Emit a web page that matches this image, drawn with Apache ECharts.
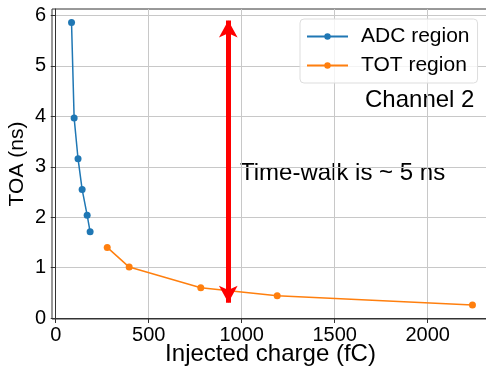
<!DOCTYPE html>
<html>
<head>
<meta charset="utf-8">
<script src="https://cdn.jsdelivr.net/npm/echarts@6/dist/echarts.min.js"></script>
<style>
  html, body { margin: 0; padding: 0; background: #fff; }
  #chart { width: 486px; height: 372px; }
</style>
</head>
<body>
<div id="chart"></div>
<script>
// ADC region (blue) and TOT region (orange) points: [charge fC, TOA ns]
const adcCharge = [85, 99, 120, 142, 169, 185]
const adcToa = [5.86, 3.97, 3.16, 2.55, 2.04, 1.71]
const totCharge = [277, 395, 780, 1191, 2241]
const totToa = [1.40, 1.01, 0.60, 0.44, 0.26]

const xTicks = [0, 500, 1000, 1500, 2000]
const yTicks = [0, 1, 2, 3, 4, 5, 6]

// red double arrow showing the time-walk
const arrowCharge = 928
const arrowTop = 5.9
const arrowBottom = 0.3

const font = 'Liberation Sans, Arial, sans-serif'

const chart = echarts.init(document.getElementById('chart'))

const option = {
  animation: false,
  grid: {
    left: 52, right: -3, top: 9, bottom: 53,
    containLabel: false,
    outerBoundsMode: 'none',
    show: true, borderColor: '#333', borderWidth: 1
  },
  xAxis: {
    type: 'value',
    min: -20, max: 2330,
    name: 'Injected charge (fC)',
    nameLocation: 'middle',
    nameGap: 23,
    nameMoveOverlap: false,
    nameTextStyle: { fontFamily: font, fontSize: 24, color: '#000', verticalAlign: 'top' },
    axisLine: { show: true, lineStyle: { color: '#333' } },
    axisTick: { show: true, length: 5, lineStyle: { color: '#333' }, customValues: xTicks },
    axisLabel: {
      fontFamily: font, fontSize: 20, color: '#000', margin: 6,
      customValues: xTicks,
      formatter: v => String(v)
    },
    splitLine: { show: true, lineStyle: { color: '#c8c8c8', width: 1 } }
  },
  yAxis: {
    type: 'value',
    min: -0.02, max: 6.13,
    name: 'TOA (ns)',
    nameLocation: 'middle',
    nameGap: 24,
    nameMoveOverlap: false,
    nameTextStyle: { fontFamily: font, fontSize: 21, color: '#000' },
    axisLine: { show: true, lineStyle: { color: '#333' } },
    axisTick: { show: true, length: 5, lineStyle: { color: '#333' }, customValues: yTicks },
    axisLabel: { fontFamily: font, fontSize: 20, color: '#000', margin: 6, customValues: yTicks },
    splitLine: { show: true, lineStyle: { color: '#c8c8c8', width: 1 } }
  },
  legend: {
    orient: 'vertical',
    left: 300, top: 19,
    width: 170,
    padding: [7, 8, 7, 6],
    itemGap: 8,
    itemWidth: 41,
    itemHeight: 8,
    backgroundColor: 'rgba(255,255,255,0.8)',
    borderColor: '#ddd',
    borderWidth: 1,
    borderRadius: 4,
    textStyle: { fontFamily: font, fontSize: 21, color: '#000', padding: [0, 0, 0, 8] },
    data: ['ADC region', 'TOT region']
  },
  series: [
    {
      name: 'ADC region',
      type: 'line',
      data: adcCharge.map((c, i) => [c, adcToa[i]]),
      symbol: 'circle',
      symbolSize: 7,
      lineStyle: { width: 1.5, color: '#1f77b4' },
      itemStyle: { color: '#1f77b4' }
    },
    {
      name: 'TOT region',
      type: 'line',
      data: totCharge.map((c, i) => [c, totToa[i]]),
      symbol: 'circle',
      symbolSize: 7,
      lineStyle: { width: 1.5, color: '#ff7f0e' },
      itemStyle: { color: '#ff7f0e' },
      markLine: {
        silent: true,
        symbol: ['arrow', 'arrow'],
        symbolSize: [14, 17],
        label: { show: false },
        lineStyle: { color: '#ff0000', width: 5, type: 'solid' },
        itemStyle: { color: '#ff0000' },
        data: [[{ coord: [arrowCharge, arrowTop] }, { coord: [arrowCharge, arrowBottom] }]]
      }
    }
  ],
  graphic: [
    {
      type: 'text', left: 365, top: 88,
      style: { text: 'Channel 2', fontFamily: font, fontSize: 24, fill: '#000' }
    },
    {
      type: 'text', left: 240, top: 161,
      style: { text: 'Time-walk is ~ 5 ns', fontFamily: font, fontSize: 24, fill: '#000' }
    }
  ]
}

chart.setOption(option)
</script>
</body>
</html>
